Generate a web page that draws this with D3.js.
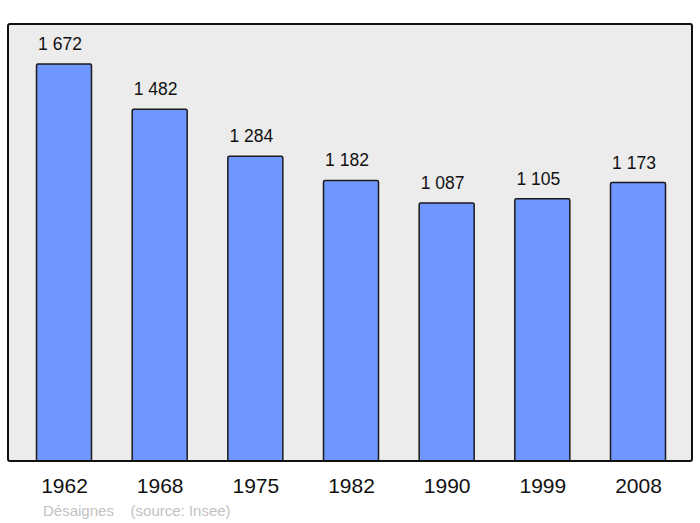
<!DOCTYPE html>
<html>
<head>
<meta charset="utf-8">
<script src="https://cdn.jsdelivr.net/npm/d3@7"></script>
<style>
  body { margin: 0; background: #fff; }
  svg { display: block; font-family: "Liberation Sans", Arial, sans-serif; }
</style>
</head>
<body>
<div id="chart"></div>
<script>
// Population data
const years = ['1962', '1968', '1975', '1982', '1990', '1999', '2008'];
const population = [1672, 1482, 1284, 1182, 1087, 1105, 1173];
const placeName = 'Désaignes';
const sourceText = '(source: Insee)';

const W = 700, H = 523;
const FRAME = { x: 8, y: 24, w: 684, h: 437 };
const BAR_W = 55;

const svg = d3.select('#chart').append('svg')
  .attr('width', W).attr('height', H);

// Scales
const x = d3.scalePoint().domain(years).range([64, 638]);
const y = d3.scaleLinear().domain([0, 1841]).range([FRAME.y + FRAME.h, FRAME.y]);

// Plot background frame
svg.append('rect')
  .attr('x', FRAME.x).attr('y', FRAME.y)
  .attr('width', FRAME.w).attr('height', FRAME.h)
  .attr('rx', 2)
  .attr('fill', '#ececec');

// Bars
svg.append('g').selectAll('rect')
  .data(years.map((yr, i) => ({ yr, v: population[i] })))
  .enter().append('rect')
  .attr('x', d => x(d.yr) - BAR_W / 2)
  .attr('y', d => y(d.v))
  .attr('width', BAR_W)
  .attr('height', d => y(0) - y(d.v))
  .attr('rx', 1.5)
  .attr('fill', '#7097ff')
  .attr('stroke', '#1a1a1a')
  .attr('stroke-width', 1.5);

// Value labels (French thousands separator)
const fmt = v => d3.format(',')(v).replace(',', ' ');
svg.append('g').selectAll('text')
  .data(years.map((yr, i) => ({ yr, v: population[i] })))
  .enter().append('text')
  .attr('x', d => x(d.yr) - 4)
  .attr('y', d => y(d.v) - 14)
  .attr('text-anchor', 'middle')
  .attr('font-size', 17.5)
  .attr('fill', '#111')
  .text(d => fmt(d.v));

// Frame outline drawn over bars
svg.append('rect')
  .attr('x', FRAME.x).attr('y', FRAME.y)
  .attr('width', FRAME.w).attr('height', FRAME.h)
  .attr('rx', 2)
  .attr('fill', 'none')
  .attr('stroke', '#111')
  .attr('stroke-width', 2);

// Year axis labels
const xAxis = svg.append('g')
  .attr('transform', `translate(0,${FRAME.y + FRAME.h})`)
  .call(d3.axisBottom(x).tickSize(0).tickPadding(17));
xAxis.select('.domain').remove();
xAxis.selectAll('text')
  .attr('font-size', 21)
  .attr('font-family', '"Liberation Sans", Arial, sans-serif')
  .attr('fill', '#111');

// Footer
svg.append('text')
  .attr('x', 43).attr('y', 516)
  .attr('font-size', 15)
  .attr('fill', '#c2c2c2')
  .attr('xml:space', 'preserve')
  .text(placeName + '    ' + sourceText);
</script>
</body>
</html>
